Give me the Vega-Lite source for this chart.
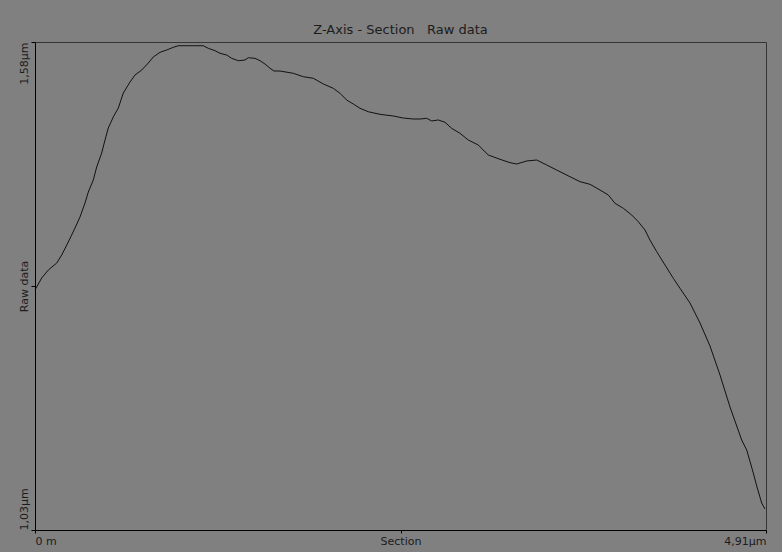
{
  "$schema": "https://vega.github.io/schema/vega-lite/v6.json",
  "width": 731,
  "height": 488,
  "autosize": "none",
  "padding": {"left": 35, "top": 42, "right": 16, "bottom": 22},
  "background": "#808080",
  "config": {
    "view": {"stroke": "#353535", "strokeWidth": 1},
    "font": "DejaVu Sans"
  },
  "title": {
    "text": "Z-Axis - Section\u00a0\u00a0\u00a0Raw data",
    "fontSize": 13,
    "fontWeight": "normal",
    "font": "DejaVu Sans",
    "color": "#1c1c1c",
    "anchor": "middle",
    "offset": 5
  },
  "data": {
    "values": [
      {"x": 0.0, "z": 1.3005},
      {"x": 0.045, "z": 1.314},
      {"x": 0.0893, "z": 1.323},
      {"x": 0.1458, "z": 1.3309},
      {"x": 0.1793, "z": 1.3399},
      {"x": 0.2237, "z": 1.3546},
      {"x": 0.2687, "z": 1.3704},
      {"x": 0.3023, "z": 1.3828},
      {"x": 0.3358, "z": 1.3985},
      {"x": 0.358, "z": 1.4109},
      {"x": 0.3916, "z": 1.4245},
      {"x": 0.4144, "z": 1.4391},
      {"x": 0.448, "z": 1.4549},
      {"x": 0.4702, "z": 1.4695},
      {"x": 0.4923, "z": 1.4831},
      {"x": 0.5259, "z": 1.4955},
      {"x": 0.5595, "z": 1.5056},
      {"x": 0.5931, "z": 1.5225},
      {"x": 0.6381, "z": 1.5349},
      {"x": 0.6717, "z": 1.5428},
      {"x": 0.7167, "z": 1.5484},
      {"x": 0.761, "z": 1.5563},
      {"x": 0.7946, "z": 1.5631},
      {"x": 0.8396, "z": 1.5684},
      {"x": 0.8846, "z": 1.571},
      {"x": 0.9289, "z": 1.574},
      {"x": 0.9625, "z": 1.5758},
      {"x": 1.019, "z": 1.5758},
      {"x": 1.0633, "z": 1.5758},
      {"x": 1.1305, "z": 1.5758},
      {"x": 1.164, "z": 1.5729},
      {"x": 1.209, "z": 1.5702},
      {"x": 1.2426, "z": 1.5673},
      {"x": 1.2876, "z": 1.5653},
      {"x": 1.3212, "z": 1.5616},
      {"x": 1.3655, "z": 1.5589},
      {"x": 1.4105, "z": 1.5597},
      {"x": 1.4327, "z": 1.5623},
      {"x": 1.4777, "z": 1.5616},
      {"x": 1.5113, "z": 1.5589},
      {"x": 1.5449, "z": 1.5552},
      {"x": 1.5785, "z": 1.5504},
      {"x": 1.6053, "z": 1.5473},
      {"x": 1.6456, "z": 1.5473},
      {"x": 1.735, "z": 1.5447},
      {"x": 1.8021, "z": 1.5409},
      {"x": 1.8693, "z": 1.5391},
      {"x": 1.9365, "z": 1.5327},
      {"x": 2.0036, "z": 1.5278},
      {"x": 2.0486, "z": 1.5222},
      {"x": 2.0936, "z": 1.5146},
      {"x": 2.138, "z": 1.5101},
      {"x": 2.183, "z": 1.5053},
      {"x": 2.2387, "z": 1.5014},
      {"x": 2.3173, "z": 1.4985},
      {"x": 2.4067, "z": 1.4966},
      {"x": 2.4738, "z": 1.4943},
      {"x": 2.541, "z": 1.4932},
      {"x": 2.586, "z": 1.4932},
      {"x": 2.631, "z": 1.494},
      {"x": 2.6646, "z": 1.491},
      {"x": 2.7089, "z": 1.4921},
      {"x": 2.7539, "z": 1.4895},
      {"x": 2.7989, "z": 1.4827},
      {"x": 2.8547, "z": 1.4771},
      {"x": 2.9104, "z": 1.4695},
      {"x": 2.9776, "z": 1.4639},
      {"x": 3.0448, "z": 1.4526},
      {"x": 3.1233, "z": 1.4478},
      {"x": 3.1905, "z": 1.444},
      {"x": 3.2355, "z": 1.4425},
      {"x": 3.3027, "z": 1.4459},
      {"x": 3.3698, "z": 1.447},
      {"x": 3.437, "z": 1.4414},
      {"x": 3.5042, "z": 1.4357},
      {"x": 3.5935, "z": 1.4282},
      {"x": 3.6606, "z": 1.4226},
      {"x": 3.7278, "z": 1.4196},
      {"x": 3.795, "z": 1.4132},
      {"x": 3.8507, "z": 1.4076},
      {"x": 3.8957, "z": 1.3982},
      {"x": 3.9515, "z": 1.3926},
      {"x": 4.0079, "z": 1.385},
      {"x": 4.0522, "z": 1.3775},
      {"x": 4.0972, "z": 1.3681},
      {"x": 4.1308, "z": 1.3568},
      {"x": 4.1758, "z": 1.3437},
      {"x": 4.2316, "z": 1.3287},
      {"x": 4.2873, "z": 1.3137},
      {"x": 4.3323, "z": 1.3024},
      {"x": 4.3995, "z": 1.2858},
      {"x": 4.4667, "z": 1.2633},
      {"x": 4.5338, "z": 1.2374},
      {"x": 4.601, "z": 1.2047},
      {"x": 4.6682, "z": 1.1686},
      {"x": 4.7468, "z": 1.1314},
      {"x": 4.7803, "z": 1.1202},
      {"x": 4.8247, "z": 1.0942},
      {"x": 4.8495, "z": 1.0785},
      {"x": 4.881, "z": 1.0604},
      {"x": 4.9032, "z": 1.0537}
    ]
  },
  "mark": {"type": "line", "color": "#111111", "strokeWidth": 1, "interpolate": "linear"},
  "encoding": {
    "x": {
      "field": "x",
      "type": "quantitative",
      "scale": {"domain": [0, 4.91], "nice": false, "zero": false},
      "axis": {
        "title": null,
        "values": [0, 2.455, 4.91],
        "labelExpr": "datum.value == 0 ? '0 m' : (datum.value > 4.9 ? '4,91µm' : 'Section')",
        "labelFlush": true,
        "grid": false,
        "domainColor": "#000000",
        "tickColor": "#000000",
        "tickSize": 3,
        "labelPadding": 2,
        "labelFontSize": 11,
        "labelFont": "DejaVu Sans",
        "labelColor": "#1c1c1c"
      }
    },
    "y": {
      "field": "z",
      "type": "quantitative",
      "scale": {"domain": [1.03, 1.58], "nice": false, "zero": false},
      "axis": {
        "title": null,
        "values": [1.03, 1.305, 1.58],
        "labelExpr": "datum.value < 1.1 ? '1,03µm' : (datum.value > 1.5 ? '1,58µm' : 'Raw data')",
        "labelAngle": -90,
        "labelAlign": {
          "condition": [
            {"test": "datum.value < 1.1", "value": "left"},
            {"test": "datum.value > 1.5", "value": "right"}
          ],
          "value": "center"
        },
        "labelBaseline": "bottom",
        "labelFlush": false,
        "labelOverlap": false,
        "grid": false,
        "domainColor": "#000000",
        "tickColor": "#000000",
        "tickSize": 4,
        "labelPadding": 2,
        "labelFontSize": 11,
        "labelFont": "DejaVu Sans",
        "labelColor": "#1c1c1c"
      }
    }
  }
}
